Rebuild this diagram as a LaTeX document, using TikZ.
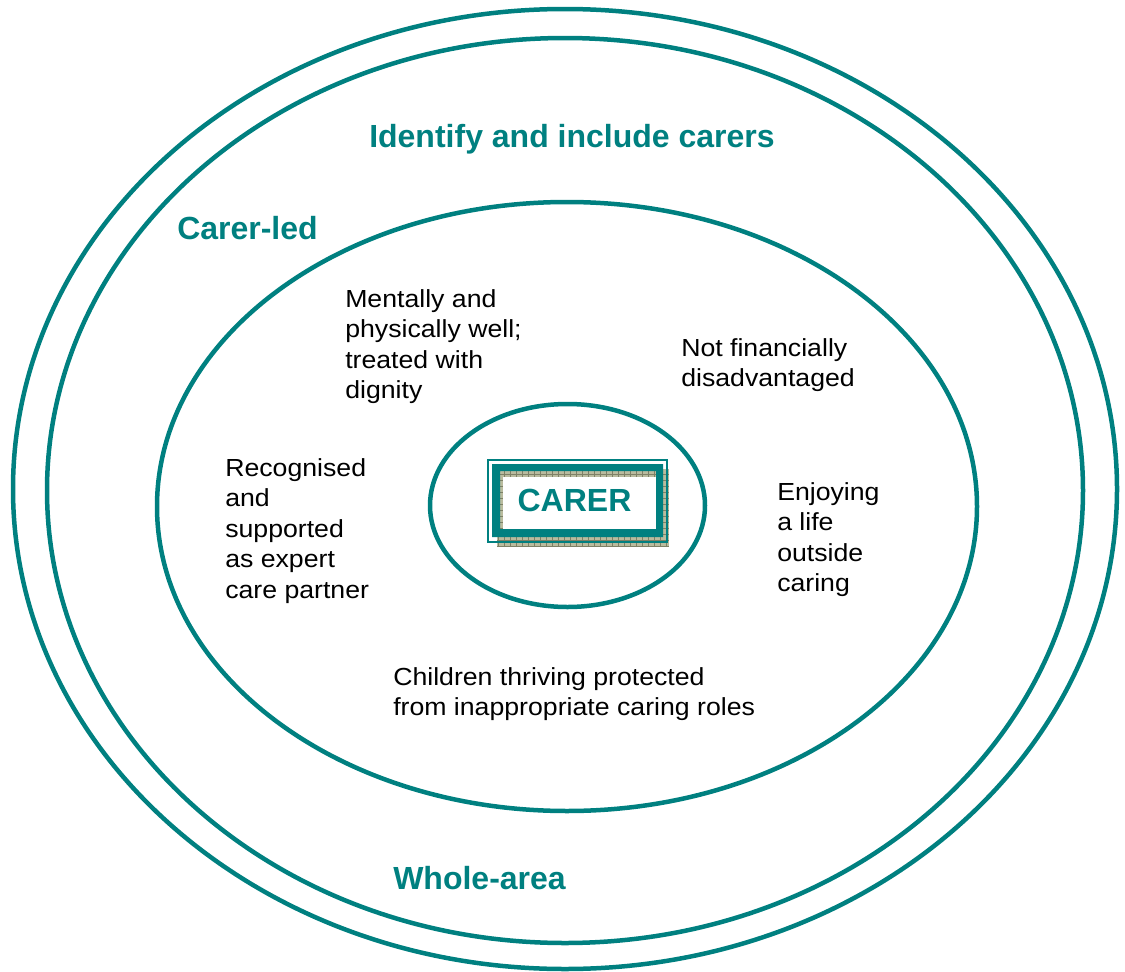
\documentclass[tikz,border=0pt]{standalone}
\usepackage{fontspec}
\setmainfont{Liberation Sans}
\newfontfamily\widesans[FakeStretch=1.08]{Liberation Sans}
\usepackage{xcolor}
\usetikzlibrary{shapes.geometric}

\definecolor{carerteal}{HTML}{008080}
\definecolor{hatchfill}{HTML}{B9BB9E}
\definecolor{hatchline}{HTML}{7E8166}

\begin{document}
\begin{tikzpicture}[
            x = 1pt, y = -1pt, % one unit per pixel, counted downwards
            line width = 4.5pt
        ]

        \tikzstyle{ring}=[
            shape = ellipse,
            draw = carerteal,
            line width = 4.5pt,
            inner sep = 0pt
        ]
        \tikzstyle{heading}=[
            text = carerteal,
            font = \fontsize{32}{38}\selectfont\bfseries,
            inner sep = 0pt,
            anchor = base west
        ]
        % multi-line text: the base anchor sits on the last line
        \tikzstyle{outcome}=[
            font = \widesans\fontsize{24.7}{30.5}\selectfont,
            align = left,
            inner sep = 0pt,
            anchor = base west
        ]

        \useasboundingbox (0,0) rectangle (1125,972);

        % the four rings
        \node[ring, minimum width=1104pt, minimum height=960pt] (outer) at (565,489) {};
        \node[ring, minimum width=1036pt, minimum height=905pt] (whole) at (565,490.5) {};
        \node[ring, minimum width=820pt, minimum height=609pt] (inner) at (567,506.5) {};
        \node[ring, minimum width=275pt, minimum height=203pt] (core) at (567.5,505.5) {};

        % framed box in the middle
        \fill[hatchfill] (497,469) rectangle (669,547);
        \draw[hatchline, line width=0.6pt, step=6pt] (497,469) grid (669,547);
        \fill[white] (503,477) rectangle (656,529);
        \fill[carerteal, even odd rule] (492,464) rectangle (663,537) (500,471) rectangle (656,529);
        \draw[carerteal, line width=1.5pt] (488,460) rectangle (667,542);
        \node[font=\fontsize{32}{38}\selectfont\bfseries, text=carerteal] (carer) at (574.5,500) {CARER};

        % ring labels
        \node[heading] (identify) at (367,147) {Identify and include carers};
        \node[heading] (led) at (175,239) {Carer-led};
        \node[heading] (area) at (391,889) {Whole-area};

        % outcomes
        \node[outcome] (well) at (343,398.5) {Mentally and\\physically well;\\treated with\\dignity};
        \node[outcome] (expert) at (223,598) {Recognised\\and\\supported\\as expert\\care partner};
        \node[outcome] (money) at (679,386.5) {Not financially\\disadvantaged};
        \node[outcome] (life) at (775,591.5) {Enjoying\\a life\\outside\\caring};
        \node[outcome] (children) at (391,715.5) {Children thriving protected\\from inappropriate caring roles};
    \end{tikzpicture}
\end{document}
